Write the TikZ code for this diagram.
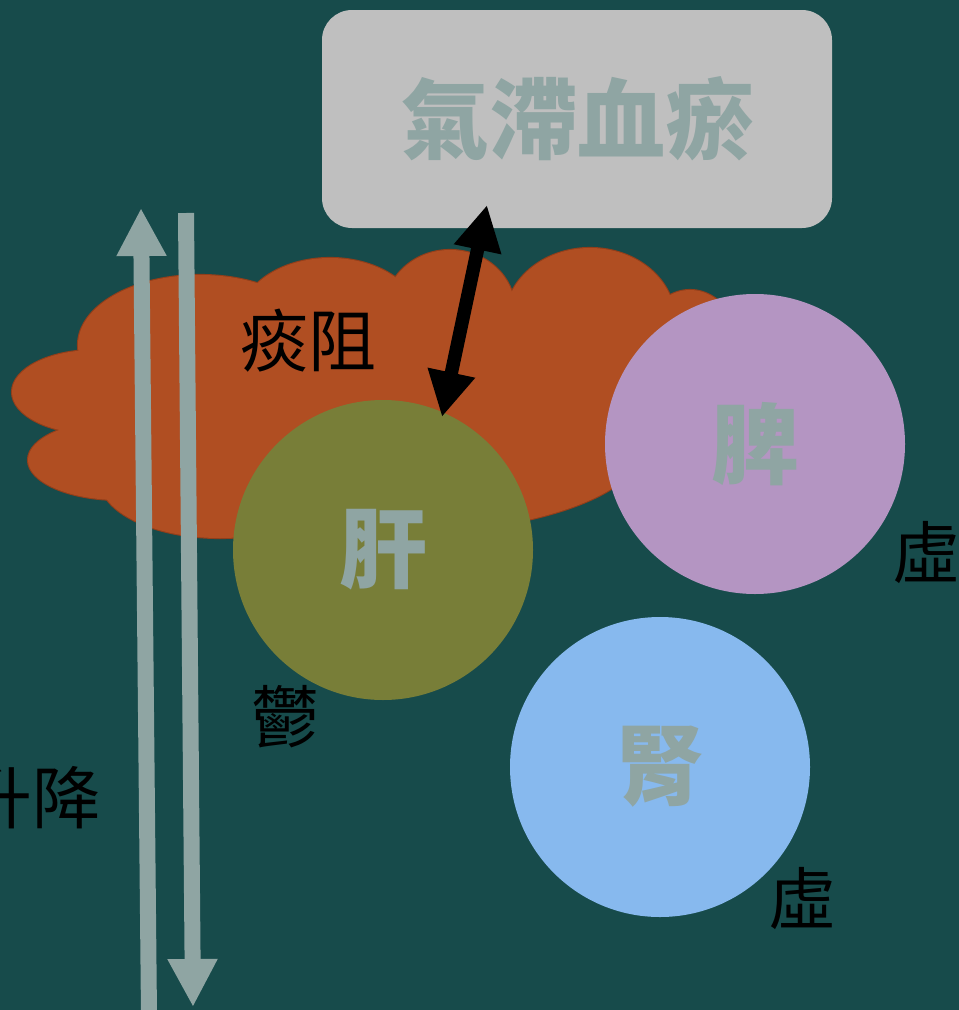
\documentclass[tikz,border=0pt]{standalone}
\usepackage{fontspec}
\setmainfont{Noto Sans CJK TC}
\usetikzlibrary{arrows.meta}
\definecolor{bg}{RGB}{23,75,75}
\definecolor{boxgray}{RGB}{191,191,191}
\definecolor{softgray}{RGB}{143,165,163}
\definecolor{cloudfill}{RGB}{176,78,34}
\definecolor{cloudline}{RGB}{145,62,26}
\definecolor{liver}{RGB}{120,126,56}
\definecolor{spleen}{RGB}{180,149,194}
\definecolor{kidney}{RGB}{135,185,238}
\tikzset{
  organ/.style={circle, minimum size=225pt, inner sep=0pt, font=\fontsize{66}{70}\selectfont\bfseries, text=softgray},
  title/.style={rounded corners=22.5pt, fill=boxgray, minimum width=382.5pt, minimum height=163.5pt, inner sep=0pt, font=\fontsize{66}{70}\selectfont\bfseries, text=softgray},
  lbl/.style={inner sep=0pt, font=\fontsize{51}{55}\selectfont, text=black},
  flow/.style={softgray, line width=12pt, -{Triangle[length=36pt, width=35pt]}},
  link/.style={black, line width=10pt, {Triangle[length=34pt, width=34pt]}-{Triangle[length=34pt, width=34pt]}}
}
\begin{document}
\begin{tikzpicture}[x=0.75pt, y=-0.75pt]
\clip (0,0) rectangle (959,1010);
\fill[bg] (0,0) rectangle (959,1010);
% title box
\node[title] (qz) at (577,119) {氣滯血瘀};
% cloud (union of ellipses)
\foreach \cx/\cy/\rx/\ry in {95/392/62.25/31.5, 120/460/69/30, 200/345/91.5/52.5, 330/320/67.5/46.5, 450/310/48.75/45, 590/320/63.75/54, 690/380/45/67.5, 380/450/195/63.75, 220/480/90/43.5}
  \draw[cloudline, line width=1.6pt] (\cx,\cy) ellipse [x radius=\rx pt, y radius=\ry pt];
\foreach \cx/\cy/\rx/\ry in {95/392/62.25/31.5, 120/460/69/30, 200/345/91.5/52.5, 330/320/67.5/46.5, 450/310/48.75/45, 590/320/63.75/54, 690/380/45/67.5, 380/450/195/63.75, 220/480/90/43.5}
  \fill[cloudfill] (\cx,\cy) ellipse [x radius=\rx pt, y radius=\ry pt];
\fill[cloudfill] (100,380) -- (200,330) -- (330,300) -- (450,290) -- (590,300) -- (680,330) -- (700,420) -- (600,480) -- (380,500) -- (150,480) -- cycle;
\node[lbl] (tz) at (308,341) {痰阻};
% rising / falling arrows
\coordinate (upS) at (149,1015);
\coordinate (upE) at (141,208);
\coordinate (dnS) at (186,213);
\coordinate (dnE) at (193,1007);
\draw[flow] (upS) -- (upE);
\draw[flow] (dnS) -- (dnE);
% organs
\node[organ, fill=liver] (gan) at (383,550) {肝};
\node[organ, fill=spleen] (pi) at (755,444) {脾};
\node[organ, fill=kidney] (shen) at (660,767) {腎};
% double arrow
\coordinate (lkA) at (442,417);
\coordinate (lkB) at (487,205);
\draw[link] (lkA) -- (lkB);
% labels
\node[lbl] (yu) at (285,717) {鬱};
\node[lbl] (xu1) at (926,553) {虛};
\node[lbl] (xu2) at (802,899) {虛};
\node[lbl] (sj) at (33,798) {升降};
\end{tikzpicture}
\end{document}
